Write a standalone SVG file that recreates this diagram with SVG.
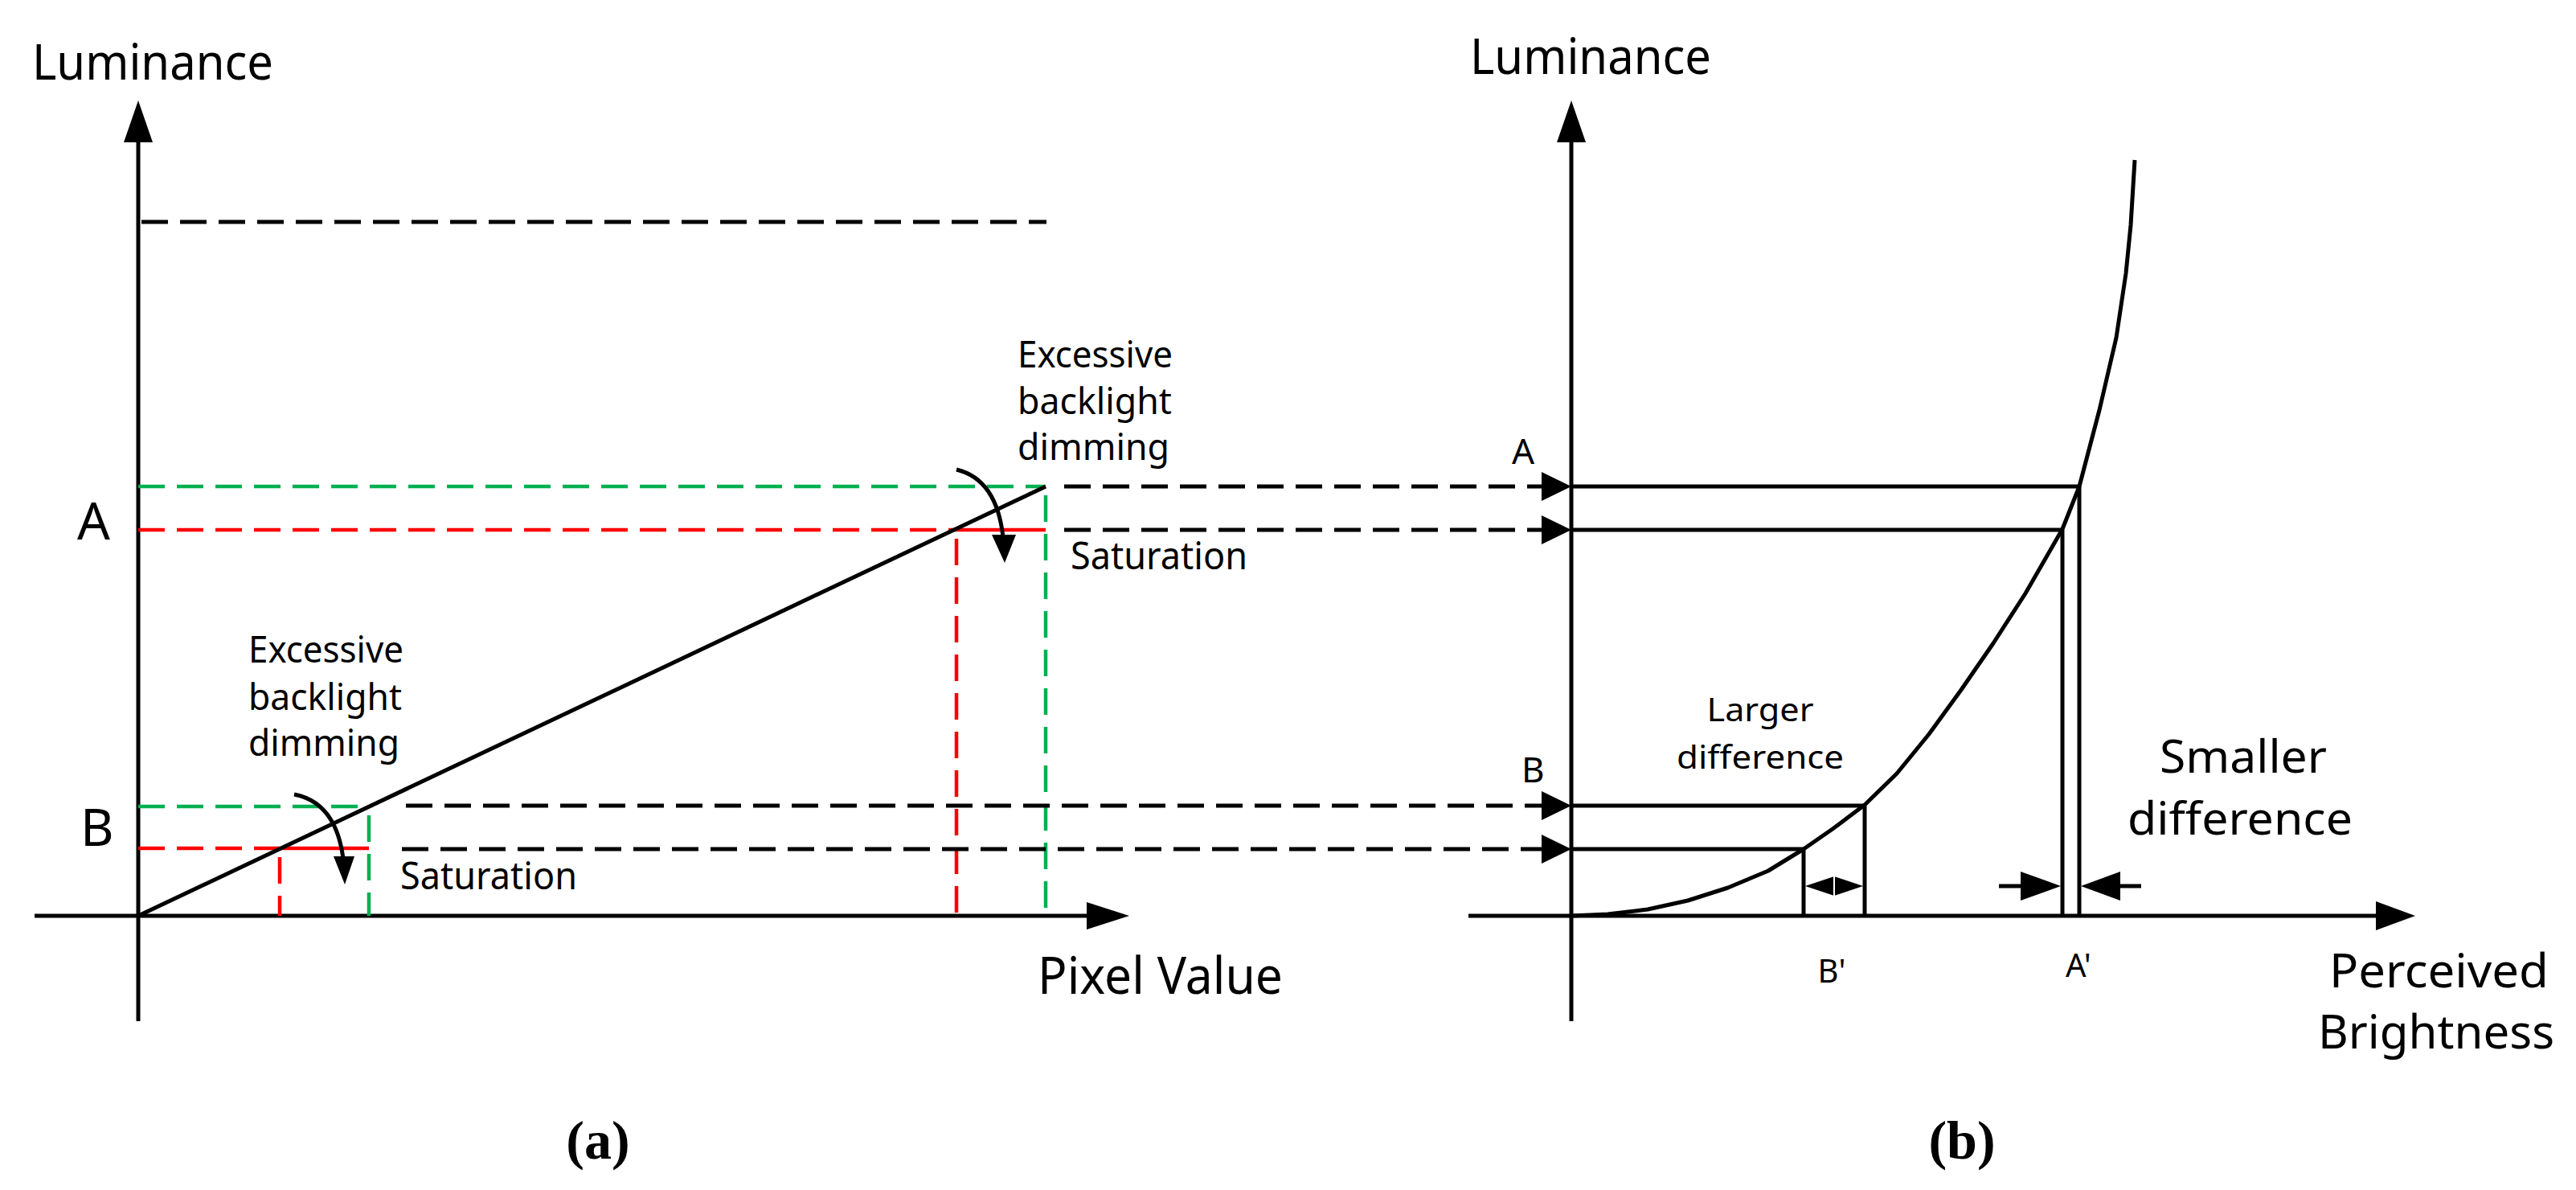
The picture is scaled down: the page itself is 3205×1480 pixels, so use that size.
<svg xmlns="http://www.w3.org/2000/svg" width="3205" height="1480" viewBox="0 0 3205 1480">
<style>
.t{font-family:"Noto Sans","Open Sans","DejaVu Sans",sans-serif;fill:#000}
.cap{font-family:"Liberation Serif",serif;font-weight:bold;font-size:68px}
.ax{stroke:#000;stroke-width:5;fill:none}
.sl{stroke:#000;stroke-width:5;fill:none}
.dk{stroke:#000;stroke-width:5;stroke-dasharray:33 15;fill:none}
.dg{stroke:#00B050;stroke-width:4.5;stroke-dasharray:33 15;fill:none}
.dr{stroke:#FF0000;stroke-width:4.5;stroke-dasharray:33 15;fill:none}
.sr{stroke:#FF0000;stroke-width:4.5;fill:none}
.hd{fill:#000}
</style>
<g id="panel-a">
<g id="axes-a">
<line class="ax" x1="172" y1="170" x2="172" y2="1270"/>
<polygon class="hd" points="172,125 154,177 190,177"/>
<line class="ax" x1="43" y1="1139" x2="1360" y2="1139"/>
<polygon class="hd" points="1405,1139 1352,1122 1352,1156"/>
<text class="t" x="40" y="99" font-size="62" textLength="300" lengthAdjust="spacingAndGlyphs">Luminance</text>
<text class="t" x="1291" y="1236" font-size="64" textLength="305" lengthAdjust="spacingAndGlyphs">Pixel Value</text>
<text class="t" x="96" y="671" font-size="64">A</text>
<text class="t" x="100" y="1052" font-size="64">B</text>
</g>
<g id="guides-a">
<line class="dk" x1="176" y1="276" x2="1302" y2="276"/>
<line class="dg" x1="172" y1="605" x2="1301" y2="605"/>
<line class="dg" x1="1301" y1="616" x2="1301" y2="1139"/>
<line class="dr" x1="172" y1="659" x2="1190" y2="659"/>
<line class="sr" x1="1190" y1="659" x2="1301" y2="659"/>
<line class="dr" x1="1190" y1="670" x2="1190" y2="1139"/>
<line class="dg" x1="172" y1="1003" x2="459" y2="1003"/>
<line class="dg" x1="459" y1="1014" x2="459" y2="1139"/>
<line class="dr" x1="172" y1="1055" x2="348" y2="1055"/>
<line class="sr" x1="348" y1="1055" x2="459" y2="1055"/>
<line class="dr" x1="348" y1="1066" x2="348" y2="1139"/>
<line class="sl" x1="172" y1="1139" x2="1301" y2="605"/>
</g>
<g id="note-upper">
<text class="t" x="1266" y="457" font-size="45" textLength="193" lengthAdjust="spacingAndGlyphs">Excessive</text>
<text class="t" x="1266" y="515" font-size="45" textLength="192" lengthAdjust="spacingAndGlyphs">backlight</text>
<text class="t" x="1266" y="572" font-size="45" textLength="189" lengthAdjust="spacingAndGlyphs">dimming</text>
<path class="sl" d="M1190,584 Q1240,596 1248,668"/>
<polygon class="hd" points="1250,700 1234,665 1264,665"/>
<text class="t" x="1332" y="708" font-size="47" textLength="220" lengthAdjust="spacingAndGlyphs">Saturation</text>
</g>
<g id="note-lower">
<text class="t" x="309" y="824" font-size="45" textLength="193" lengthAdjust="spacingAndGlyphs">Excessive</text>
<text class="t" x="309" y="883" font-size="45" textLength="191" lengthAdjust="spacingAndGlyphs">backlight</text>
<text class="t" x="309" y="940" font-size="45" textLength="188" lengthAdjust="spacingAndGlyphs">dimming</text>
<path class="sl" d="M366,988 Q418,998 427,1068"/>
<polygon class="hd" points="429,1100 415,1065 441,1065"/>
<text class="t" x="498" y="1106" font-size="47" textLength="220" lengthAdjust="spacingAndGlyphs">Saturation</text>
</g>
<text class="cap" x="744" y="1441" text-anchor="middle">(a)</text>
</g>
<g id="connectors">
<line class="dk" x1="1324" y1="605" x2="1918" y2="605"/>
<polygon class="hd" points="1955,605 1918,587 1918,623"/>
<line class="dk" x1="1324" y1="659" x2="1918" y2="659"/>
<polygon class="hd" points="1955,659 1918,641 1918,677"/>
<line class="dk" x1="505" y1="1002" x2="1918" y2="1002"/>
<polygon class="hd" points="1955,1002 1918,984 1918,1020"/>
<line class="dk" x1="500" y1="1056" x2="1918" y2="1056"/>
<polygon class="hd" points="1955,1056 1918,1038 1918,1074"/>
</g>
<g id="panel-b">
<g id="axes-b">
<line class="ax" x1="1955" y1="170" x2="1955" y2="1270"/>
<polygon class="hd" points="1955,125 1937,177 1973,177"/>
<line class="ax" x1="1827" y1="1139" x2="2960" y2="1139"/>
<polygon class="hd" points="3005,1139 2956,1121 2956,1157"/>
<text class="t" x="1829" y="92" font-size="62" textLength="300" lengthAdjust="spacingAndGlyphs">Luminance</text>
<text class="t" x="2898" y="1228" font-size="58" textLength="273" lengthAdjust="spacingAndGlyphs">Perceived</text>
<text class="t" x="2884" y="1304" font-size="58" textLength="294" lengthAdjust="spacingAndGlyphs">Brightness</text>
</g>
<path id="curve" class="sl" stroke-width="4" stroke-linejoin="round" d="M1955,1139 L2000,1137 L2050,1131 L2100,1120 L2150,1104 L2200,1083 L2244,1056 L2280,1031 L2320,1001 L2360,962 L2400,913 L2440,858 L2480,800 L2520,738 L2566,658 L2587,605 L2612,510 L2633,420 L2645,340 L2651,280 L2656,199"/>
<g id="mapping">
<line class="sl" x1="1955" y1="605" x2="2587" y2="605"/>
<line class="sl" x1="1955" y1="659" x2="2566" y2="659"/>
<line class="sl" x1="2587" y1="605" x2="2587" y2="1139"/>
<line class="sl" x1="2566" y1="659" x2="2566" y2="1139"/>
<line class="sl" x1="1955" y1="1002" x2="2320" y2="1002"/>
<line class="sl" x1="1955" y1="1056" x2="2244" y2="1056"/>
<line class="sl" x1="2320" y1="1002" x2="2320" y2="1139"/>
<line class="sl" x1="2244" y1="1056" x2="2244" y2="1139"/>
<text class="t" x="1881" y="577" font-size="44">A</text>
<text class="t" x="1893" y="973" font-size="44">B</text>
<text class="t" x="2279" y="1222" font-size="40" text-anchor="middle">B'</text>
<text class="t" x="2586" y="1215" font-size="40" text-anchor="middle">A'</text>
</g>
<g id="diff-larger">
<polygon class="hd" points="2246,1102 2282,1090 2282,1114"/>
<polygon class="hd" points="2318,1102 2282,1090 2282,1114"/>
<line stroke="#fff" stroke-width="2" x1="2282" y1="1088" x2="2282" y2="1116"/>
<text class="t" x="2190" y="897" font-size="40" text-anchor="middle" textLength="133" lengthAdjust="spacingAndGlyphs">Larger</text>
<text class="t" x="2190" y="956" font-size="40" text-anchor="middle" textLength="208" lengthAdjust="spacingAndGlyphs">difference</text>
</g>
<g id="diff-smaller">
<line class="sl" x1="2487" y1="1102" x2="2520" y2="1102"/>
<polygon class="hd" points="2564,1102 2514,1084 2514,1120"/>
<line class="sl" x1="2664" y1="1102" x2="2632" y2="1102"/>
<polygon class="hd" points="2589,1102 2638,1084 2638,1120"/>
<text class="t" x="2687" y="961" font-size="56" textLength="208" lengthAdjust="spacingAndGlyphs">Smaller</text>
<text class="t" x="2647" y="1038" font-size="56" textLength="280" lengthAdjust="spacingAndGlyphs">difference</text>
</g>
<text class="cap" x="2441" y="1441" text-anchor="middle">(b)</text>
</g>
</svg>
